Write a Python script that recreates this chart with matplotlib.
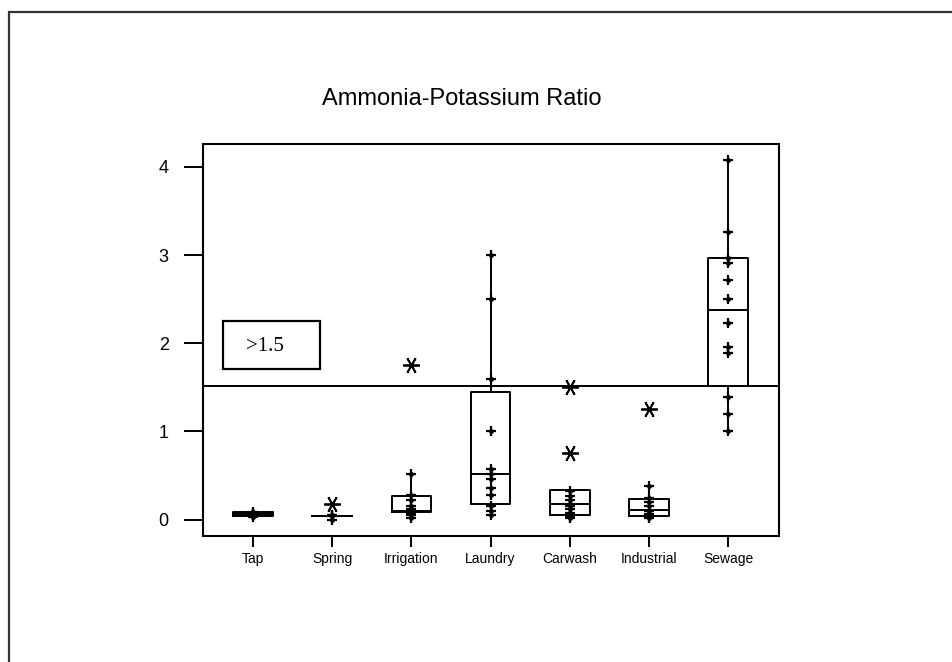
import matplotlib
matplotlib.use("Agg")
import matplotlib.pyplot as plt
from matplotlib.patches import Rectangle

groups = ["Tap", "Spring", "Irrigation", "Laundry", "Carwash", "Industrial", "Sewage"]

# individual ratios for each water source
points = {
    "Tap": [0.03, 0.04, 0.05, 0.05, 0.06, 0.06, 0.07, 0.07, 0.08, 0.09],
    "Spring": [0.0, 0.04, 0.05, 0.05],
    "Irrigation": [0.02, 0.05, 0.08, 0.10, 0.12, 0.15, 0.22, 0.28, 0.52],
    "Laundry": [0.05, 0.10, 0.15, 0.28, 0.36, 0.46, 0.52, 0.57, 1.0, 1.6, 2.5, 3.0],
    "Carwash": [0.02, 0.03, 0.05, 0.08, 0.12, 0.15, 0.18, 0.22, 0.27, 0.32],
    "Industrial": [0.02, 0.04, 0.07, 0.10, 0.15, 0.20, 0.25, 0.38],
    "Sewage": [1.0, 1.2, 1.39, 1.89, 1.96, 2.23, 2.5, 2.72, 2.91, 2.97, 3.26, 4.08],
}
outliers = {
    "Tap": [],
    "Spring": [0.18],
    "Irrigation": [1.75],
    "Laundry": [],
    "Carwash": [0.76, 1.50],
    "Industrial": [1.25],
    "Sewage": [],
}

# box statistics: lower whisker, Q1, median, Q3, upper whisker
q1 = [0.04, 0.045, 0.09, 0.18, 0.057, 0.04, 1.52]
med = [0.06, 0.045, 0.10, 0.52, 0.18, 0.105, 2.38]
q3 = [0.085, 0.045, 0.27, 1.45, 0.34, 0.23, 2.97]
wlo = [0.03, 0.0, 0.02, 0.05, 0.02, 0.02, 1.0]
whi = [0.09, 0.05, 0.52, 3.0, 0.32, 0.38, 4.08]

threshold = 1.52

plt.rcParams['font.family'] = ['Liberation Sans', 'DejaVu Sans']

fig = plt.figure(figsize=(9.53, 6.62), dpi=100)
fig.patches.append(Rectangle((0.0095, -0.1), 1.2, 1.082, transform=fig.transFigure,
                             fill=False, edgecolor="#333333", linewidth=1.6))

ax = fig.add_axes([0.213, 0.191, 0.6044, 0.5917])

stats = []
for i, g in enumerate(groups):
    stats.append(dict(label=g, whislo=wlo[i], q1=q1[i], med=med[i], q3=q3[i],
                      whishi=whi[i], fliers=[]))

line_kw = dict(color="black", linewidth=1.4)
ax.bxp(stats, positions=range(1, 8), widths=0.5, showcaps=False,
       boxprops=line_kw, medianprops=line_kw, whiskerprops=line_kw)

for i, g in enumerate(groups):
    x = i + 1
    xs = [x] * len(points[g])
    ax.plot(xs, points[g], linestyle="none", marker="+", markersize=7,
            color="black", markeredgewidth=1.6)
    ax.plot(xs, points[g], linestyle="none", marker="o", markersize=3.5,
            color="black", markeredgewidth=0)
    if outliers[g]:
        ax.plot([x] * len(outliers[g]), outliers[g], linestyle="none",
                marker=(6, 2, 90), markersize=12, color="black", markeredgewidth=1.3)

ax.axhline(threshold, color="black", linewidth=1.4)

# threshold label box
ax.add_patch(Rectangle((0.0347, 0.4256), 0.168, 0.1225, transform=ax.transAxes,
                       fill=False, edgecolor="black", linewidth=1.6))
ax.text(0.108, 0.4825, ">1.5", transform=ax.transAxes, family="Liberation Serif",
        fontsize=15, va="center", ha="center")

ax.set_xlim(0.37, 7.64)
ax.set_ylim(-0.18, 4.26)
ax.set_yticks([0, 1, 2, 3, 4])
ax.set_xticks(range(1, 8))
ax.set_xticklabels(groups, fontsize=10)
ax.tick_params(axis="y", length=13.7, width=1.4, labelsize=13, pad=11)
ax.tick_params(axis="x", length=8, width=1.4, pad=4)
for s in ax.spines.values():
    s.set_linewidth(1.5)

fig.text(0.485, 0.850, "Ammonia-Potassium Ratio", fontsize=17, ha="center", va="center")

fig.savefig("out.png", dpi=100)
